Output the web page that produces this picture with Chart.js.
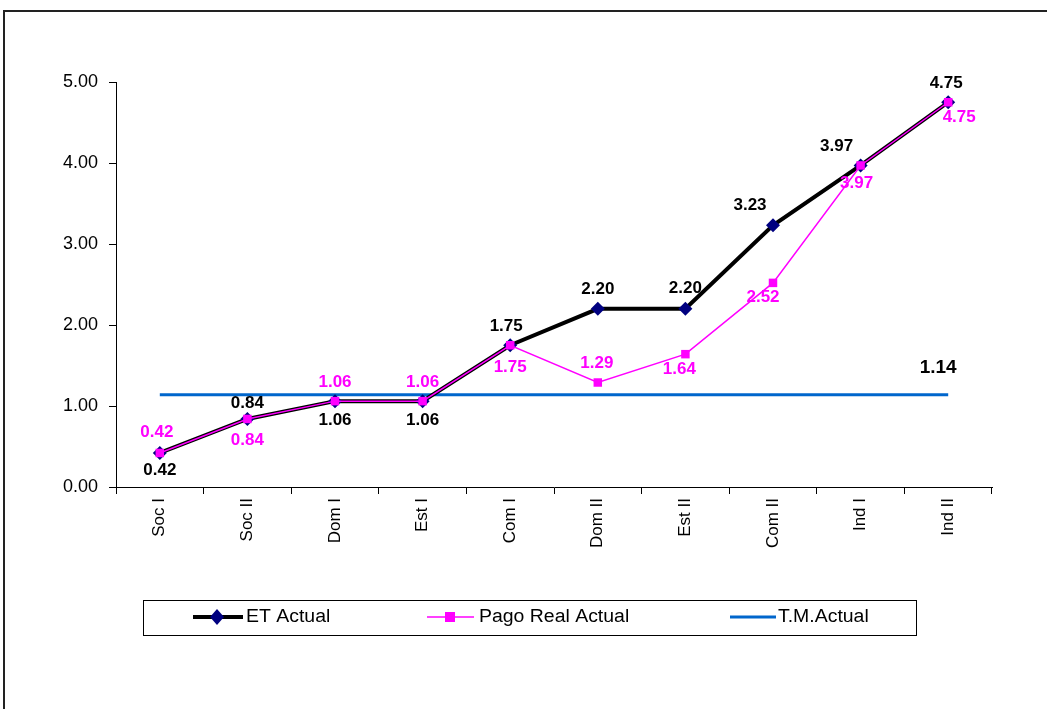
<!DOCTYPE html>
<html>
<head>
<meta charset="utf-8">
<script src="https://cdn.jsdelivr.net/npm/chart.js@4.4.0/dist/chart.umd.js"></script>
<style>
  html, body { margin: 0; padding: 0; background: #fff; overflow: hidden; }
  #chart { display: block; }
</style>
</head>
<body>
<canvas id="chart" width="1047" height="709"></canvas>
<script>
// Categorias y series
const categories = ['Soc I', 'Soc II', 'Dom I', 'Est I', 'Com I', 'Dom II', 'Est II', 'Com II', 'Ind I', 'Ind II']
const etActual = [0.42, 0.84, 1.06, 1.06, 1.75, 2.20, 2.20, 3.23, 3.97, 4.75]
const pagoRealActual = [0.42, 0.84, 1.06, 1.06, 1.75, 1.29, 1.64, 2.52, 3.97, 4.75]
const tmActual = [1.14, 1.14, 1.14, 1.14, 1.14, 1.14, 1.14, 1.14, 1.14, 1.14]
const yTicks = [0, 1, 2, 3, 4, 5]

// desplazamiento de las etiquetas respecto a cada punto (px)
const etLabelDx = [0, 0, 0, 0, -4, 0, 0, -23, -24, -2]
const etLabelDy = [17, -16, 19, 19, -19, -19, -20, -20, -19, -19]
const pagoLabelDx = [-3, 0, 0, 0, 0, -1, -6, -10, -4, 11]
const pagoLabelDy = [-21, 21, -19, -19, 22, -19, 15, 14, 18, 15]

const FONT = '"Liberation Sans", Arial, sans-serif'

const frame = {
  id: 'frame',
  beforeDraw(chart) {
    const ctx = chart.ctx
    ctx.save()
    ctx.fillStyle = '#fff'
    ctx.fillRect(0, 0, chart.width, chart.height)
    ctx.strokeStyle = '#222'
    ctx.lineWidth = 2
    ctx.strokeRect(4, 11, chart.width + 20, chart.height + 20)
    ctx.restore()
  }
}

const valueLabels = {
  id: 'valueLabels',
  afterDatasetsDraw(chart) {
    const ctx = chart.ctx
    ctx.save()
    ctx.font = 'bold 17px ' + FONT
    ctx.textAlign = 'center'
    ctx.textBaseline = 'middle'
    const draw = (dsIndex, values, dx, dy, color) => {
      const meta = chart.getDatasetMeta(dsIndex)
      ctx.fillStyle = color
      meta.data.forEach((pt, i) => {
        ctx.fillText(values[i].toFixed(2), pt.x + dx[i], pt.y + dy[i])
      })
    }
    draw(0, etActual, etLabelDx, etLabelDy, '#000')
    draw(1, pagoRealActual, pagoLabelDx, pagoLabelDy, '#ff00ff')

    // solo el ultimo punto de la linea T.M.
    const tm = chart.getDatasetMeta(2).data
    const last = tm[tm.length - 1]
    ctx.font = 'bold 19px ' + FONT
    ctx.fillStyle = '#000'
    ctx.fillText(tmActual[tmActual.length - 1].toFixed(2), last.x - 10, last.y - 27)
    ctx.restore()
  }
}

const legendBox = {
  id: 'legendBox',
  afterDraw(chart) {
    const ctx = chart.ctx
    ctx.save()
    ctx.strokeStyle = '#000'
    ctx.lineWidth = 1
    ctx.strokeRect(143.5, 600.5, 773, 35)
    const y = 617
    ctx.font = '18px ' + FONT
    ctx.textBaseline = 'middle'

    const label = (text, x) => {
      // texto algo ensanchado, como en la hoja original
      ctx.save()
      ctx.translate(x, y)
      ctx.scale(1.08, 1)
      ctx.fillStyle = '#000'
      ctx.fillText(text, 0, 0)
      ctx.restore()
    }

    // ET Actual
    ctx.strokeStyle = '#000'
    ctx.lineWidth = 4
    ctx.beginPath(); ctx.moveTo(193, y); ctx.lineTo(243, y); ctx.stroke()
    ctx.fillStyle = '#000080'
    ctx.beginPath()
    ctx.moveTo(217, y - 8); ctx.lineTo(224, y); ctx.lineTo(217, y + 8); ctx.lineTo(210, y)
    ctx.closePath(); ctx.fill()
    label('ET Actual', 246)

    // Pago Real Actual
    ctx.strokeStyle = '#ff00ff'
    ctx.lineWidth = 1.5
    ctx.beginPath(); ctx.moveTo(427, y); ctx.lineTo(474, y); ctx.stroke()
    ctx.fillStyle = '#ff00ff'
    ctx.fillRect(445, y - 5, 10, 10)
    label('Pago Real Actual', 479)

    // T.M.Actual
    ctx.strokeStyle = '#0066cc'
    ctx.lineWidth = 3
    ctx.beginPath(); ctx.moveTo(730, y); ctx.lineTo(776, y); ctx.stroke()
    label('T.M.Actual', 778)
    ctx.restore()
  }
}

const ctx = document.getElementById('chart').getContext('2d')
new Chart(ctx, {
  type: 'line',
  data: {
    labels: categories,
    datasets: [
      {
        label: 'ET Actual',
        data: etActual,
        borderColor: '#000',
        borderWidth: 4,
        pointStyle: 'rectRot',
        pointRadius: 7,
        pointBackgroundColor: '#000080',
        pointBorderColor: '#000080',
        pointBorderWidth: 0,
        tension: 0,
        order: 2
      },
      {
        label: 'Pago Real Actual',
        data: pagoRealActual,
        borderColor: '#ff00ff',
        borderWidth: 1.5,
        pointStyle: 'rect',
        pointRadius: 6,
        pointBackgroundColor: '#ff00ff',
        pointBorderColor: '#ff00ff',
        pointBorderWidth: 0,
        tension: 0,
        order: 1
      },
      {
        label: 'T.M.Actual',
        data: tmActual,
        borderColor: '#0066cc',
        borderWidth: 3,
        pointRadius: 0,
        tension: 0,
        order: 3
      }
    ]
  },
  options: {
    responsive: false,
    animation: false,
    devicePixelRatio: 1,
    layout: {
      padding: { top: 82, right: 55, left: 0, bottom: 0 }
    },
    plugins: {
      legend: { display: false },
      title: { display: false },
      tooltip: { enabled: false }
    },
    scales: {
      x: {
        offset: true,
        grid: {
          offset: true,
          drawOnChartArea: false,
          drawTicks: true,
          tickLength: 7,
          color: '#000'
        },
        border: { color: '#000', width: 1 },
        ticks: {
          color: '#000',
          font: { family: FONT, size: 17 },
          minRotation: 90,
          maxRotation: 90,
          padding: 4,
          autoSkip: false
        },
        afterFit(scale) { scale.height = 709 - 487 }
      },
      y: {
        min: 0,
        max: 5,
        afterBuildTicks(scale) { scale.ticks = yTicks.map(v => ({ value: v })) },
        grid: {
          drawOnChartArea: false,
          drawTicks: true,
          tickLength: 7,
          color: '#000'
        },
        border: { color: '#000', width: 1 },
        ticks: {
          color: '#000',
          font: { family: FONT, size: 18 },
          padding: 11,
          callback: value => Number(value).toFixed(2)
        },
        afterFit(scale) { scale.width = 116 }
      }
    }
  },
  plugins: [frame, valueLabels, legendBox]
})
</script>
</body>
</html>
